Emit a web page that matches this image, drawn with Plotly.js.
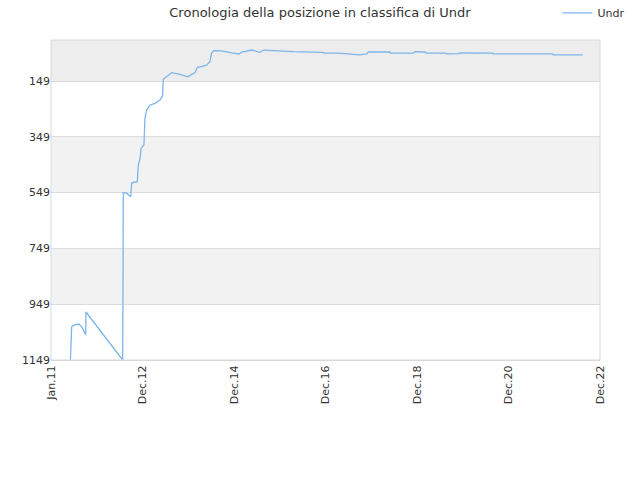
<!DOCTYPE html>
<html>
<head>
<meta charset="utf-8">
<script src="https://cdn.plot.ly/plotly-3.0.1.min.js"></script>
<style>html,body{margin:0;padding:0;background:#fff;}#chart{width:640px;height:480px;}</style>
</head>
<body>
<div id="chart"></div>
<script>
var seriesName = "Undr";
var dates = ["2011-05-05","2011-05-10","2011-05-15","2011-06-02","2011-07-11","2011-08-05","2011-09-04","2011-09-06",
"2012-06-25","2012-06-28","2012-06-30","2012-07-27","2012-08-28","2012-09-05","2012-10-20","2012-10-28","2012-11-11",
"2012-11-19","2012-12-12","2012-12-20","2013-01-03","2013-01-31","2013-03-10","2013-04-19","2013-05-10","2013-05-15",
"2013-07-21","2013-09-26","2013-11-27","2014-01-24","2014-02-12","2014-03-03","2014-04-26","2014-05-22","2014-06-05",
"2014-06-23","2014-08-24","2014-11-13","2015-01-10","2015-02-01","2015-03-24","2015-04-25","2015-06-25","2015-07-27",
"2015-10-10","2016-03-18","2016-11-13","2016-11-19","2017-03-12","2017-05-18","2017-09-02","2017-10-25","2017-11-07",
"2018-04-28","2018-05-03","2018-11-01","2018-11-15","2019-02-03","2019-02-12","2019-07-12","2019-07-25","2019-10-25",
"2019-11-15","2020-07-27","2020-08-01","2021-11-15","2021-11-24","2022-07-15"];
var ranks = [1149,1090,1030,1024,1020,1031,1059,977,
1149,880,549,551,564,514,510,450,426,
390,378,283,253,235,229,217,203,143,
119,125,134,119,100,98,92,80,50,
40,41,48,52,45,41,38,46,38,
40,44,46,49,49,51,55,52,45,
45,49,49,44,45,49,49,52,51,
48,49,52,52,55,55];
var yTicks = [149,349,549,749,949,1149];
var xTickDates = ["2010-12-01","2012-12-01","2014-12-01","2016-12-01","2018-12-01","2020-12-01","2022-12-01"];
var xTickLabels = ["Jan.11","Dec.12","Dec.14","Dec.16","Dec.18","Dec.20","Dec.22"];
var bandEdges = [2,149,349,549,749,949,1149];
var bandColors = ["#ededed","#ffffff","#f2f2f2","#ffffff","#f2f2f2","#ffffff"];

var shapes = [];
for (var i = 0; i < bandColors.length; i++) {
  shapes.push({type:"rect", xref:"paper", yref:"y", x0:0, x1:1, y0:bandEdges[i], y1:bandEdges[i+1],
    fillcolor:bandColors[i], line:{width:0}, layer:"below"});
}
shapes.push({type:"rect", xref:"paper", yref:"paper", x0:0, x1:1, y0:0, y1:1, line:{color:"#d8d8d8", width:1}, fillcolor:"rgba(0,0,0,0)"});

var trace = {x:dates, y:ranks, type:"scatter", mode:"lines", name:seriesName,
  line:{color:"#7cb5ec", width:1.3}};

var layout = {
  width:640, height:480,
  margin:{l:51, r:40, t:40, b:120, autoexpand:false},
  paper_bgcolor:"#fff", plot_bgcolor:"rgba(0,0,0,0)",
  font:{family:"DejaVu Sans, sans-serif", size:11, color:"#333"},
  title:{text:"Cronologia della posizione in classifica di Undr", x:0.5, xanchor:"center", y:0.975, yanchor:"middle",
    font:{family:"DejaVu Sans, sans-serif", size:13, color:"#333"}},
  showlegend:true,
  legend:{xref:"container", yref:"container", x:0.985, xanchor:"right", y:0.973, yanchor:"middle", orientation:"h",
    font:{size:11, color:"#333"}, bgcolor:"rgba(0,0,0,0)", itemwidth:30},
  xaxis:{type:"date", range:["2010-12-01","2022-12-01"], tickmode:"array", tickvals:xTickDates, ticktext:xTickLabels,
    tickangle:-90, showgrid:false, zeroline:false, showline:true, linecolor:"#d8d8d8", ticks:"", tickfont:{size:11, color:"#333"}, automargin:false},
  yaxis:{range:[1149,2], tickmode:"array", tickvals:yTicks, showgrid:true, gridcolor:"#dcdcdc", gridwidth:1,
    zeroline:false, showline:false, ticks:"", tickfont:{size:11, color:"#333"}, automargin:false},
  shapes:shapes
};
Plotly.newPlot("chart", [trace], layout, {displayModeBar:false, staticPlot:true});
</script>
</body>
</html>
